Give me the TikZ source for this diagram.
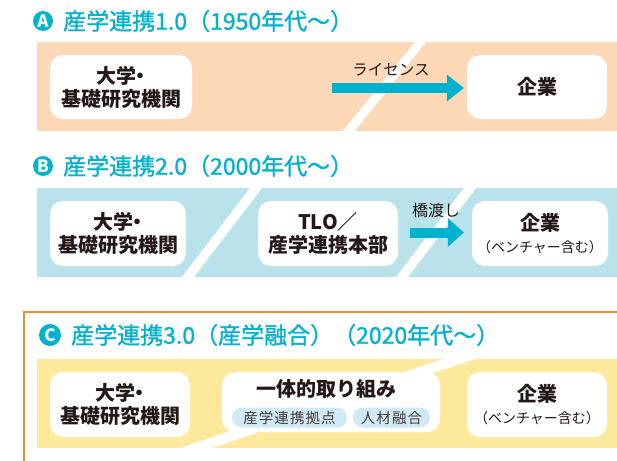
\documentclass[tikz,border=0pt]{standalone}
\usepackage{fontspec}
\setmainfont{Noto Sans CJK JP}
\newfontfamily\ttlfont[FakeBold=1.2]{Noto Sans CJK JP}
\newfontfamily\pillfont[LetterSpace=7]{Noto Sans CJK JP}
\usetikzlibrary{arrows.meta}
\definecolor{cy}{HTML}{00B2CE}
\definecolor{peach}{HTML}{FDD8B6}
\definecolor{lblue}{HTML}{B9E2EA}
\definecolor{yel}{HTML}{FDE99B}
\definecolor{orng}{HTML}{F08A30}
\definecolor{pillc}{HTML}{CFEAF5}
\definecolor{ink}{HTML}{231815}
\newcommand{\daigaku}{\kern0.2em大学\kern-0.3em・\\基礎研究機関}
\begin{document}
\begin{tikzpicture}[x=1pt,y=-1pt,
  box/.style={fill=white, rounded corners=13pt, inner sep=0pt, align=center, text=ink,
    font=\bfseries\fontsize{20}{23}\selectfont},
  ttl/.style={anchor=west, text=cy, inner sep=0pt, font=\ttlfont\fontsize{23}{23}\selectfont},
  badge/.style={circle, fill=cy, minimum size=20pt, inner sep=0pt, text=white,
    font=\bfseries\fontsize{17}{17}\selectfont},
  pillbox/.style={fill=pillc, rounded corners=10pt, inner sep=0pt, minimum height=20pt,
    text=ink!85, font=\pillfont\fontsize{14.5}{14.5}\selectfont},
  lbl/.style={text=ink, inner sep=0pt},
  bigarrow/.style={cy, line width=10pt}
]
\useasboundingbox (0,0) rectangle (617,460);

% ---- Panel A ----
\node[badge] (cA) at (43,21) {A};
\node[ttl] (tA) at (63,21) {産学連携1.0（1950年代～）};
\fill[peach] (37,42) rectangle (617,131);
\fill[white] (415,42) -- (426,42) -- (355,131) -- (343,131) -- cycle;
\node[box, minimum width=142pt, minimum height=64pt] (uA) at (121,87) {\daigaku};
\node[box, minimum width=140pt, minimum height=64pt] (kA) at (537,87) {企業};
\coordinate (sA) at (332,88);
\draw[bigarrow, -{Triangle[length=17pt,width=27pt,line width=0pt]}, shorten >=3pt] (sA) -- (sA -| kA.west);
\node[lbl, font=\fontsize{15.5}{15.5}\selectfont] (lA) at (391,70) {ライセンス};

% ---- Panel B ----
\node[badge] (cB) at (43,166) {B};
\node[ttl] (tB) at (63,166) {産学連携2.0（2000年代～）};
\fill[lblue] (37,188) rectangle (617,277);
\fill[white] (250,188) -- (262,188) -- (194,277) -- (182,277) -- cycle;
\fill[white] (464,188) -- (476,188) -- (408,277) -- (396,277) -- cycle;
\node[box, minimum width=136pt, minimum height=65pt] (uB) at (118,233.5) {\daigaku};
\node[box, minimum width=140pt, minimum height=65pt] (tlo) at (328,233.5) {TLO／\\産学連携本部};
\node[box, minimum width=136pt, minimum height=65pt] (kB) at (540,233.5) {企業\\[-1pt]{\mdseries\fontsize{14}{16}\selectfont（ベンチャー含む）}};
\coordinate (sB) at (410,232.5);
\draw[bigarrow, -{Triangle[length=16pt,width=29pt,line width=0pt]}, shorten >=8pt] (sB) -- (sB -| kB.west);
\node[lbl, font=\fontsize{16}{16}\selectfont] (lB) at (436,210) {橋渡し};

% ---- Panel C ----
\draw[orng, line width=2pt] (24,470) -- (24,312) -- (630,312);
\node[badge, minimum size=22pt] (cC) at (50,335) {C};
\node[ttl] (tC) at (71,335) {産学連携3.0（産学融合）（2020年代～）};
\fill[yel] (37,359) rectangle (617,448);
\fill[white] (443,359) -- (475,359) -- (212,448) -- (180,448) -- cycle;
\node[box, minimum width=140pt, minimum height=65pt] (uC) at (120,404.5) {\daigaku};
\node[box, minimum width=218pt, minimum height=60pt] (mid) at (331,402) {};
\node[lbl, font=\bfseries\fontsize{20}{20}\selectfont] (ittai) at (326,389) {一体的取り組み};
\node[pillbox, minimum width=115pt] (p1) at (289.5,417.5) {産学連携拠点};
\node[pillbox, minimum width=77pt] (p2) at (391.5,417.5) {人材融合};
\node[box, minimum width=140pt, minimum height=65pt] (kC) at (537,404.5) {企業\\[-1pt]{\mdseries\fontsize{14}{16}\selectfont（ベンチャー含む）}};
\end{tikzpicture}
\end{document}
